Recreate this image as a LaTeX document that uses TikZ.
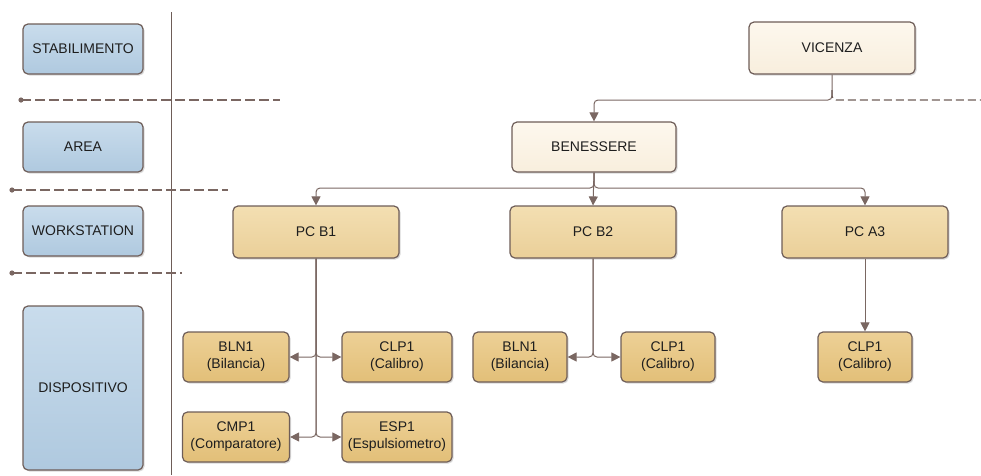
\documentclass[tikz,border=0pt]{standalone}
\usepackage{fontspec}
\setmainfont{Liberation Sans}
\usetikzlibrary{arrows.meta,shadows}
\definecolor{edge}{HTML}{6E5D58}
\definecolor{link}{HTML}{7A6762}
\definecolor{txt}{HTML}{1E1E1E}
\definecolor{bluetop}{HTML}{C9DCEC}
\definecolor{bluebot}{HTML}{AFC9DF}
\definecolor{creamtop}{HTML}{FDF8EE}
\definecolor{creambot}{HTML}{F8EEDD}
\definecolor{wstop}{HTML}{F3DFB2}
\definecolor{wsbot}{HTML}{EACF98}
\definecolor{devtop}{HTML}{EDD096}
\definecolor{devbot}{HTML}{E2BF78}
\begin{document}
\begin{tikzpicture}[x=1pt,y=-1pt,
    box/.style={draw=edge, line width=1.2pt, rounded corners=5pt, align=center,
      inner sep=0pt, text=txt, font=\fontsize{14}{17}\selectfont,
      drop shadow={shadow xshift=1.5pt, shadow yshift=-1.5pt, opacity=0.3}},
    level/.style={box, top color=bluetop, bottom color=bluebot,
      minimum width=120pt, minimum height=50pt},
    site/.style={box, top color=creamtop, bottom color=creambot,
      minimum width=166pt, minimum height=52pt},
    ws/.style={box, top color=wstop, bottom color=wsbot,
      minimum width=166pt, minimum height=52pt},
    dev/.style={box, top color=devtop, bottom color=devbot, minimum height=50pt},
    arr/.style={draw=link, line width=1pt, rounded corners=4pt,
      -{Triangle[width=9pt,length=9pt]}},
    sep/.style={draw=link, line width=1.4pt, dash pattern=on 10pt off 4pt}
  ]
\useasboundingbox (0,0) rectangle (981,475);

% levels
   \node[level] at (83,49)  (S) {STABILIMENTO};
   \node[level] at (83,147) (A) {AREA};
   \node[level] at (83,231) (W) {WORKSTATION};
   \node[level, minimum height=164pt] at (83,388) (D) {DISPOSITIVO};

   \draw[edge, line width=1pt] (171,12) -- (171,475);

% separators
   \coordinate (s1) at (21,100);  \coordinate (e1) at (280,100);
   \coordinate (s2) at (12,190);  \coordinate (e2) at (228,190);
   \coordinate (s3) at (12,273);  \coordinate (e3) at (182,273);
   \draw[sep] (s1) -- (e1);
   \draw[sep] (s2) -- (e2);
   \draw[sep] (s3) -- (e3);
   \foreach \p in {s1,s2,s3} \fill[link] (\p) circle (2.6pt);

% tree
   \node[site] at (832,48)  (VIC) {VICENZA};
   \node[site, minimum width=164pt, minimum height=50pt] at (594,147) (BEN) {BENESSERE};

   \node[ws] at (316,232) (PB1) {PC B1};
   \node[ws] at (593,232) (PB2) {PC B2};
   \node[ws] at (865,232) (PA3) {PC A3};

   \node[dev, minimum width=106pt] at (236,357) (BL1) {BLN1\\(Bilancia)};
   \node[dev, minimum width=110pt] at (397,357) (CL1) {CLP1\\(Calibro)};
   \node[dev, minimum width=107pt] at (236,437) (CM1) {CMP1\\(Comparatore)};
   \node[dev, minimum width=110pt] at (397,437) (ES1) {ESP1\\(Espulsiometro)};
   \node[dev, minimum width=94pt] at (520,357) (BL2) {BLN1\\(Bilancia)};
   \node[dev, minimum width=94pt] at (668,357) (CL2) {CLP1\\(Calibro)};
   \node[dev, minimum width=94pt] at (865,357) (CL3) {CLP1\\(Calibro)};

   \coordinate (j1) at (832,100);
   \coordinate (j2) at (594,188);
   \coordinate (d1) at (832,90);
   \coordinate (f1) at (981,100);

   \draw[arr] (VIC.south) |- (BEN.north |- j1) -- (BEN.north);
   \draw[edge, line width=1.2pt, dash pattern=on 8pt off 4pt, rounded corners=4pt] (d1) |- (f1);

   \draw[arr] (BEN.south) |- (PB1.north |- j2) -- (PB1.north);
   \draw[arr] (BEN.south) |- (PA3.north |- j2) -- (PA3.north);
   \draw[arr] (BEN.south) -- (PB2.north);

   \draw[arr] (PB1.south) |- (BL1.east);
   \draw[arr] (PB1.south) |- (CL1.west);
   \draw[arr] (PB1.south) |- (CM1.east);
   \draw[arr] (PB1.south) |- (ES1.west);

   \draw[arr] (PB2.south) |- (BL2.east);
   \draw[arr] (PB2.south) |- (CL2.west);

   \draw[arr] (PA3.south) -- (CL3.north);

\end{tikzpicture}
\end{document}
